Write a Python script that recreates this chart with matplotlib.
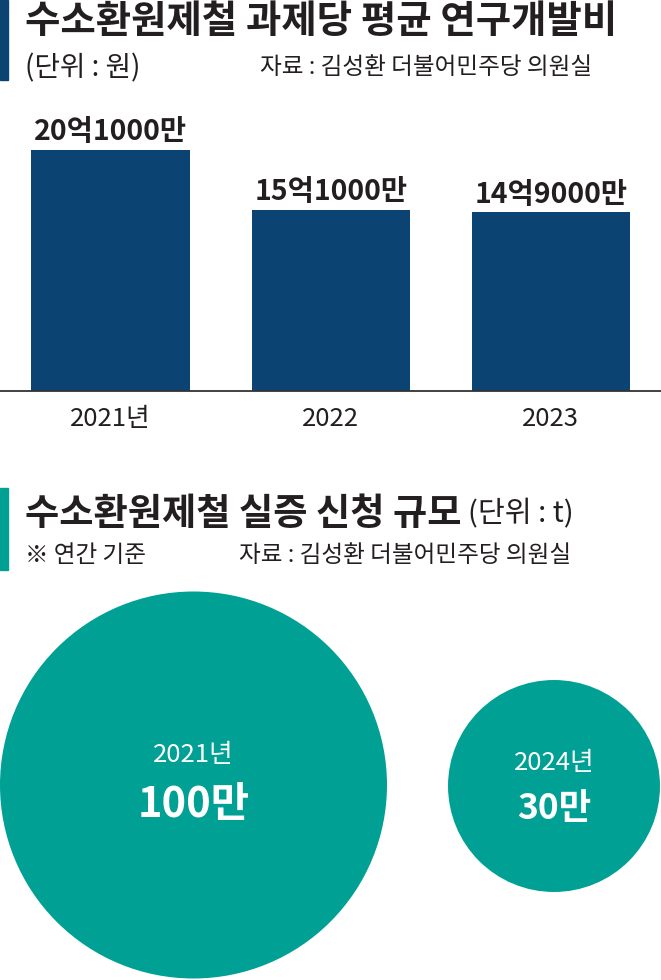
import numpy as np
import matplotlib
matplotlib.use('Agg')
import matplotlib.pyplot as plt
from matplotlib.patches import Rectangle, Circle

plt.rcParams['font.family'] = ['Noto Sans CJK KR', 'DejaVu Sans']

# data
years = ['2021년', '2022', '2023']
rnd_cost = [20.1, 15.1, 14.9]          # 억원, 과제당 평균 연구개발비
rnd_labels = ['20억1000만', '15억1000만', '14억9000만']
demo_years = ['2021년', '2024년']
demo_scale = [100, 30]                  # 만t, 실증 신청 규모
demo_labels = ['100만', '30만']

navy = '#0b4472'
teal = '#00a095'
ink = '#231f20'

W, H = 661, 980
fig = plt.figure(figsize=(W / 100, H / 100), dpi=100)


def fy(px):
    return 1 - px / H


def fx(px):
    return px / W


# header 1
fig.patches.append(Rectangle((0, fy(80)), fx(8), 80 / H, transform=fig.transFigure,
                             color=navy, zorder=0))
fig.text(fx(25), fy(22), '수소환원제철 과제당 평균 연구개발비', fontsize=27.7,
         fontweight='bold', color=ink, va='center', ha='left')
fig.text(fx(25), fy(68), '(단위 : 원)', fontsize=20, color=ink, va='center', ha='left')
fig.text(fx(592), fy(68), '자료 : 김성환 더불어민주당 의원실', fontsize=17, color=ink,
         va='center', ha='right')

# bar chart
ax = fig.add_axes([0, fy(391), 1, 291 / H])
x = np.arange(len(years))
bars = ax.bar(x, rnd_cost, width=0.72, color=navy)
ax.set_xlim(-0.503, 2.501)
ax.set_ylim(0, 24.25)
for s in ['top', 'left', 'right']:
    ax.spines[s].set_visible(False)
ax.spines['bottom'].set_color('#333333')
ax.spines['bottom'].set_linewidth(1.3)
ax.set_yticks([])
ax.set_xticks(x, years, fontsize=18.5, color=ink)
ax.tick_params(axis='x', length=0, pad=11)
for b, lab in zip(bars, rnd_labels):
    ax.annotate(lab, (b.get_x() + b.get_width() / 2, b.get_height()),
                xytext=(0, 12.5), textcoords='offset points', ha='center', va='center',
                fontsize=20.5, fontweight='bold', color=ink)

# header 2
fig.patches.append(Rectangle((0, fy(570)), fx(8), 82 / H, transform=fig.transFigure,
                             color=teal, zorder=0))
fig.text(fx(25), fy(514), '수소환원제철 실증 신청 규모', fontsize=26.8,
         fontweight='bold', color=ink, va='center', ha='left')
fig.text(fx(468), fy(514), '(단위 : t)', fontsize=21, color=ink, va='center', ha='left')
fig.text(fx(25), fy(555), '※ 연간 기준', fontsize=17, color=ink, va='center', ha='left')
fig.text(fx(571), fy(555), '자료 : 김성환 더불어민주당 의원실', fontsize=17, color=ink,
         va='center', ha='right')

# bubbles, area proportional to value
cax = fig.add_axes([0, 0, 1, 390 / H])
cax.set_xlim(0, W)
cax.set_ylim(0, 390)
cax.axis('off')
r_max = 193.5
centers = [(193.5, 195), (554, 194)]
year_off = [30, 23]
val_off = [-20, -22]
val_size = [30, 25.5]
for (cx, cy), v, yr, lab, yo, vo, vs in zip(centers, demo_scale, demo_years, demo_labels,
                                            year_off, val_off, val_size):
    r = r_max * np.sqrt(v / max(demo_scale))
    cax.add_patch(Circle((cx, cy), r, color=teal, lw=0))
    cax.text(cx, cy + yo, yr, ha='center', va='center', fontsize=18.5, color='white')
    cax.text(cx, cy + vo, lab, ha='center', va='center', fontsize=vs,
             fontweight='bold', color='white')

fig.savefig('out.png', dpi=100, facecolor='white')
